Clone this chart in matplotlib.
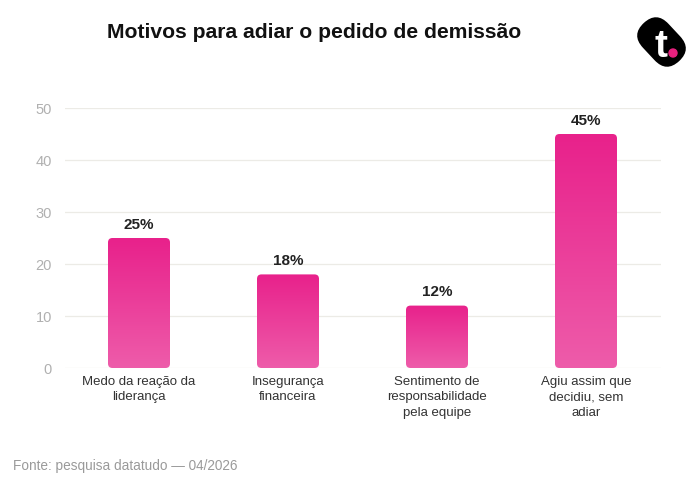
import matplotlib
matplotlib.use("Agg")
import matplotlib.pyplot as plt
import numpy as np
from matplotlib.patches import FancyBboxPatch
from matplotlib.colors import LinearSegmentedColormap
import matplotlib.transforms as mtransforms

plt.rcParams['font.family'] = ['Liberation Sans', 'DejaVu Sans']

categories = ["Medo da reação da\nliderança", "Insegurança\nfinanceira",
              "Sentimento de\nresponsabilidade\npela equipe", "Agiu assim que\ndecidiu, sem\nadiar"]
values = [25, 18, 12, 45]
value_labels = ["25%", "18%", "12%", "45%"]
yticks = [0, 10, 20, 30, 40, 50]

fig = plt.figure(figsize=(7, 4.91), dpi=100)
AX_L, AX_W = 64.5, 596
ax = fig.add_axes([AX_L/700, 1-368/491, AX_W/700, 260/491])
ax.set_yticks(yticks)
ax.set_xticks(range(len(categories)))
ax.set_xticklabels(categories, fontsize=9.5, color='#333333', linespacing=1.35)
ax.tick_params(axis='y', colors='#b0b0b0', labelsize=10.5, length=0, pad=9)
ax.tick_params(axis='x', length=0, pad=6)
for s in ax.spines.values():
    s.set_visible(False)
ax.grid(axis='y', color='#ecebe6', linewidth=0.9)
ax.set_axisbelow(True)

cmap = LinearSegmentedColormap.from_list('g', ['#ee5caa', '#e8218b'])
grad = np.linspace(0, 1, 256).reshape(-1, 1)
width = 62 / (AX_W / 4.0)
aspect = (AX_W / 4.0) / (260 / 50.0)
for i, v in enumerate(values):
    x0 = i - width/2
    patch = FancyBboxPatch((x0, 0), width, v,
                           boxstyle="round,pad=0,rounding_size=0.03",
                           mutation_aspect=aspect, linewidth=0,
                           facecolor='none', edgecolor='none')
    ax.add_patch(patch)
    im = ax.imshow(grad, cmap=cmap, origin='lower', aspect='auto',
                   extent=(x0, x0 + width, 0, v), zorder=2)
    im.set_clip_path(patch)
    ax.text(i, v + 1.2, value_labels[i], ha='center', va='bottom',
            fontsize=11, fontweight='bold', color='#222222')
ax.set_xlim(-0.5, 3.5)
ax.set_ylim(0, 50)

fig.text(107/700, 1-32/491, "Motivos para adiar o pedido de demissão",
         fontsize=15.2, fontweight='bold', color='#111111', va='center', ha='left')
fig.text(13/700, 1-466/491, "Fonte: pesquisa datatudo — 04/2026",
         fontsize=9.8, color='#9a9a9a', va='center', ha='left')

# logo, in pixel coordinates (y downward)
lax = fig.add_axes([625/700, 1-80/491, 75/700, 75/491])
lax.set_xlim(625, 700)
lax.set_ylim(80, 5)
lax.axis('off')
cx, cy, L, W = 661.5, 42, 52, 35
tr = mtransforms.Affine2D().rotate_deg_around(cx, cy, 47) + lax.transData
blob = FancyBboxPatch((cx - L/2, cy - W/2), L, W,
                      boxstyle="round,pad=0,rounding_size=17.5",
                      facecolor='black', edgecolor='none', transform=tr)
lax.add_patch(blob)
lax.text(661, 57, "t", color='white', fontsize=28, fontweight='bold',
         ha='center', va='baseline')
lax.add_patch(plt.Circle((673, 53), 4.0, color='#e8217f'))

fig.savefig("out.png", dpi=100)
